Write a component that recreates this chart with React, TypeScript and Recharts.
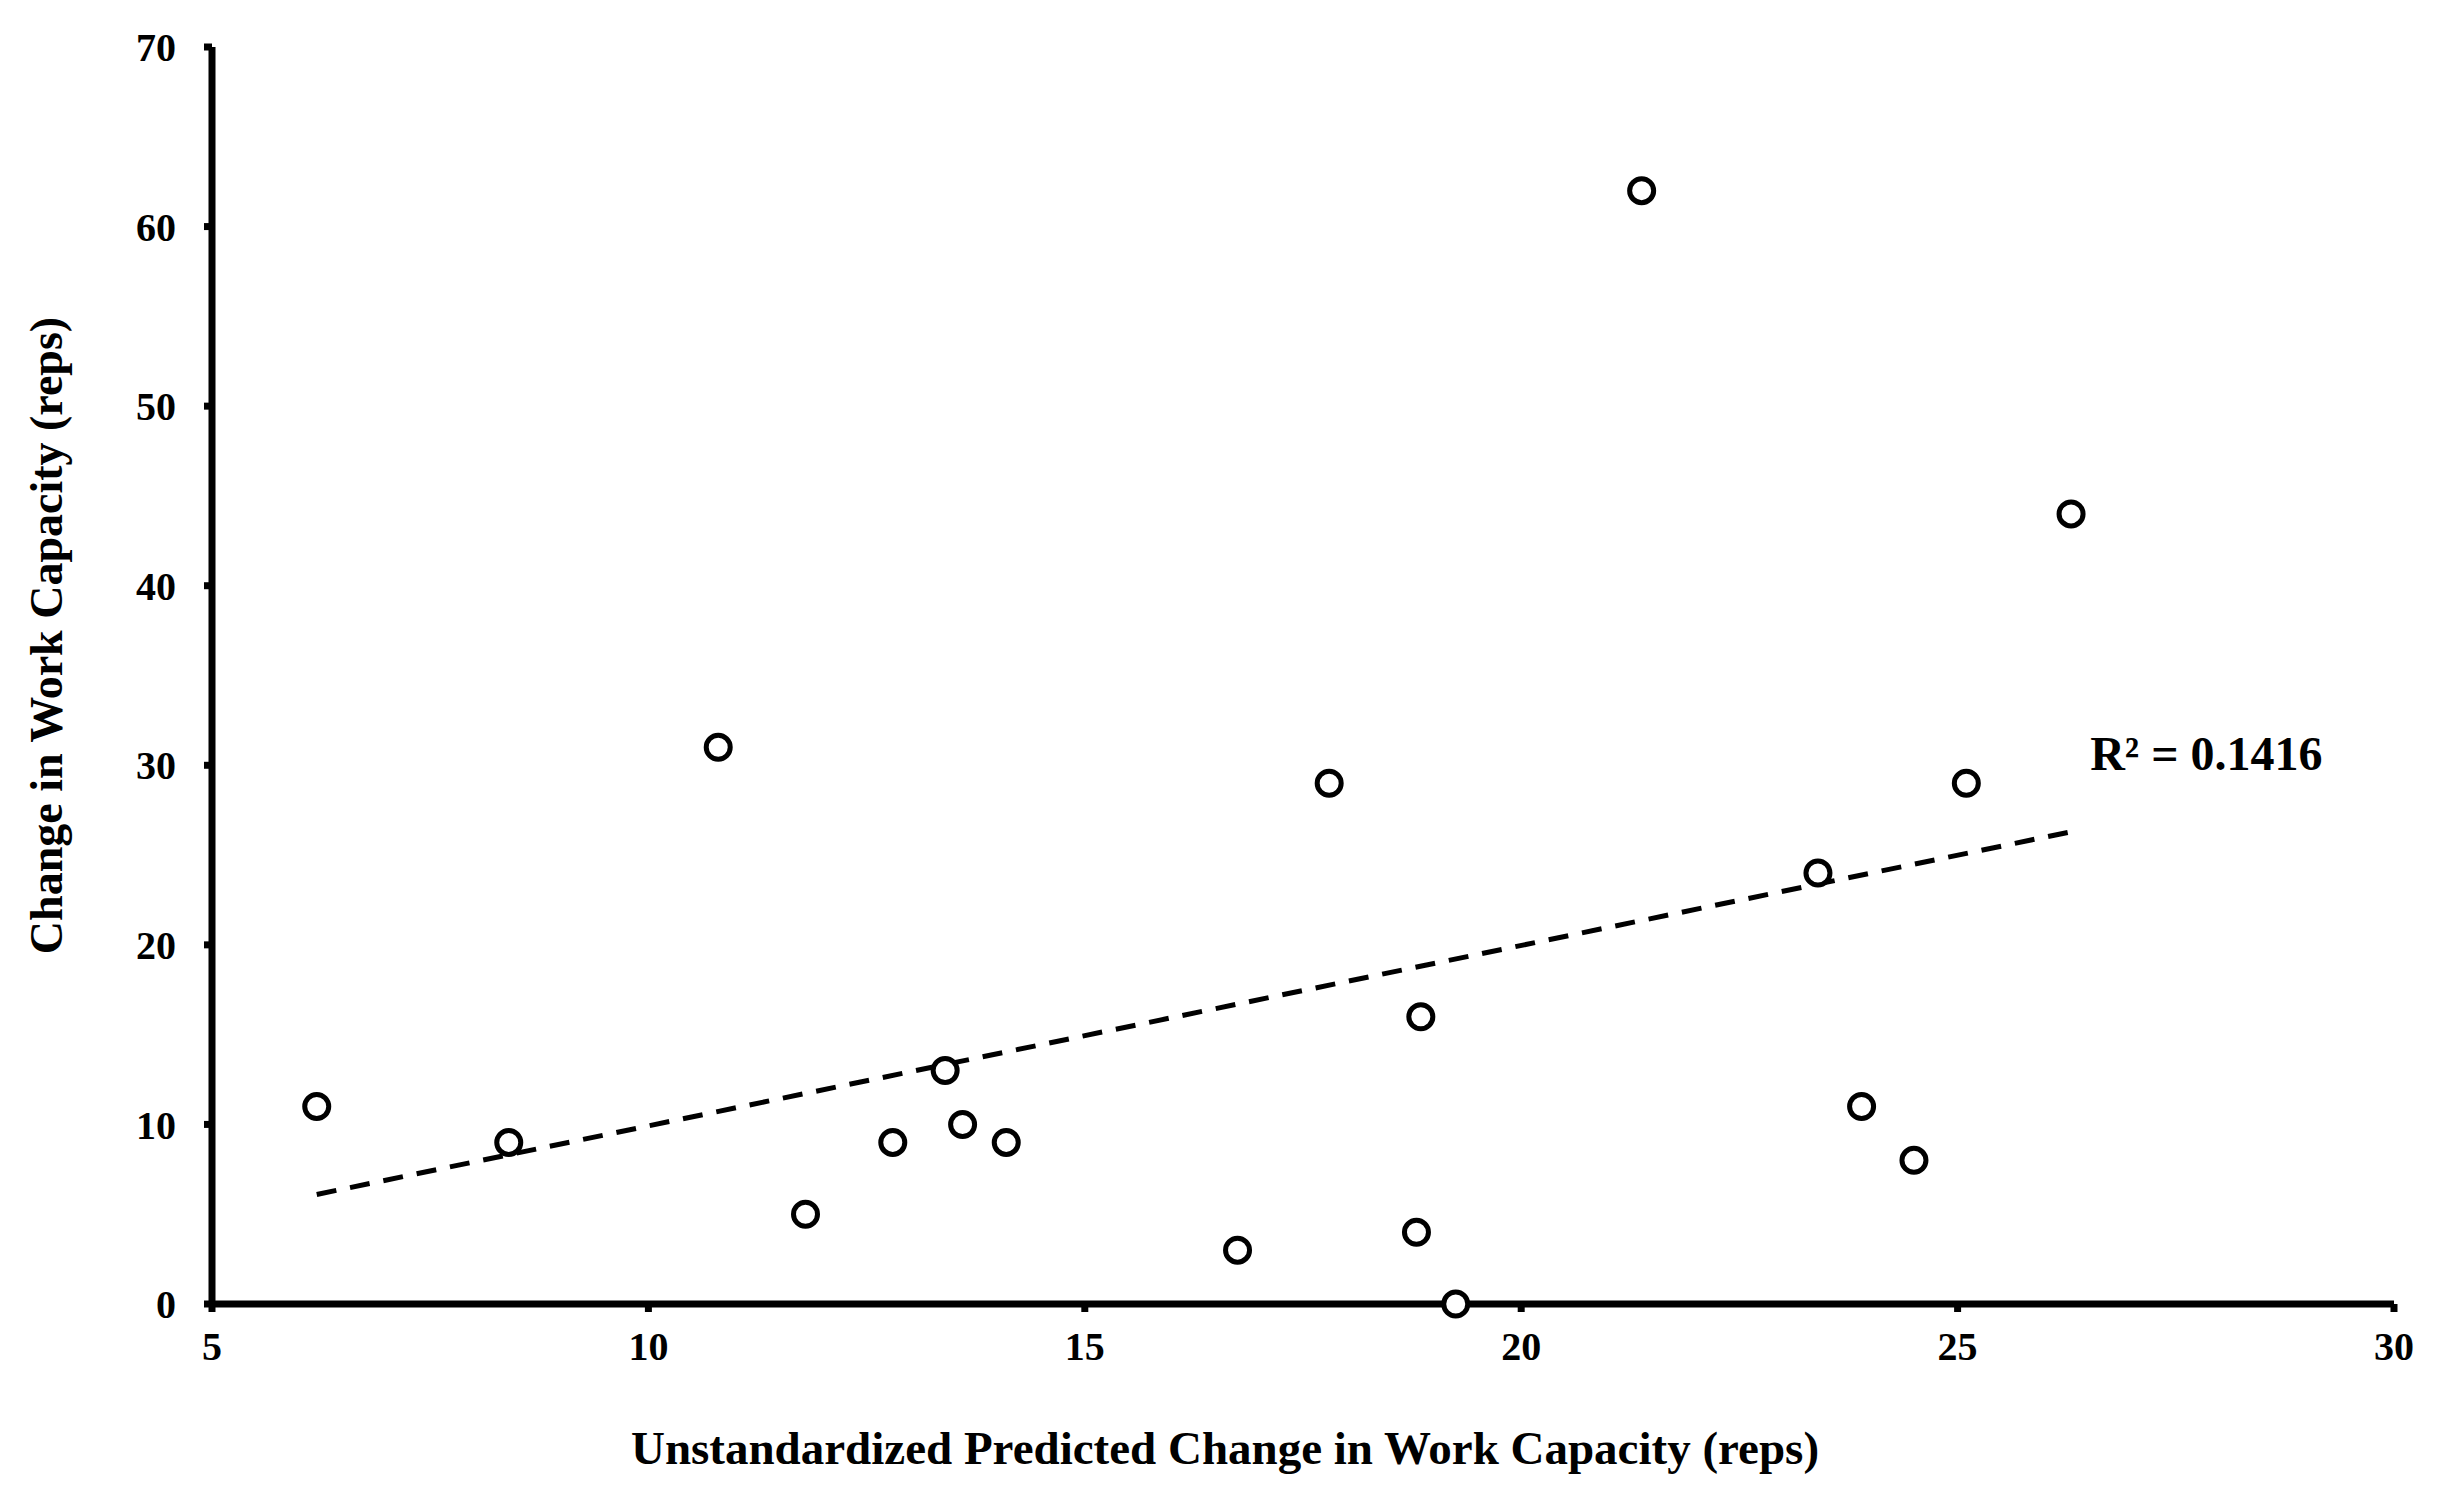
import React from 'react';
import { ScatterChart, Scatter, XAxis, YAxis, ReferenceDot } from 'recharts';

// values
const predicted = [6.2, 8.4, 10.8, 11.8, 12.8, 13.4, 13.6, 14.1, 16.75, 17.8, 18.8, 18.85, 19.25, 21.38, 23.4, 23.9, 24.5, 25.1, 26.3];
const observed = [11, 9, 31, 5, 9, 13, 10, 9, 3, 29, 4, 16, 0, 62, 24, 11, 8, 29, 44];

// linear trendline end points
const trendX = [6.2, 26.35];
const trendY = [6.1, 26.35];

const xTicks = [5, 10, 15, 20, 25, 30];
const yTicks = [0, 10, 20, 30, 40, 50, 60, 70];

const rSquaredLabel = 'R² = 0.1416';
const xTitle = 'Unstandardized Predicted Change in Work Capacity (reps)';
const yTitle = 'Change in Work Capacity (reps)';

const points = predicted.map((x, i) => ({ x, y: observed[i] }));
const trend = trendX.map((x, i) => ({ x, y: trendY[i] }));

const FONT = '"Liberation Serif", "Times New Roman", serif';

const OpenCircle = (props: any) => (
  <circle cx={props.cx} cy={props.cy} r={12} fill="#fff" stroke="#000" strokeWidth={5} />
);

const XTitle = (props: any) => {
  const vb = props.viewBox || {};
  return (
    <text
      x={vb.x + vb.width / 2 - 78}
      y={1456}
      textAnchor="middle"
      fontFamily={FONT}
      fontWeight={700}
      fontSize={47}
      fill="#000"
    >
      {xTitle}
    </text>
  );
};

const YTitle = (props: any) => {
  const vb = props.viewBox || {};
  // title sits a little above the middle of the plot
  const cy = vb.y + vb.height / 2 - 40;
  return (
    <text
      x={38}
      y={cy}
      transform={`rotate(-90, 38, ${cy})`}
      textAnchor="middle"
      dominantBaseline="central"
      fontFamily={FONT}
      fontWeight={700}
      fontSize={46}
      fill="#000"
    >
      {yTitle}
    </text>
  );
};

const tickStyle = { fontFamily: FONT, fontWeight: 700, fontSize: 40, fill: '#000' };

export default function App() {
  return (
    <div style={{ width: 2440, height: 1496, background: '#fff' }}>
      <ScatterChart width={2440} height={1496} margin={{ top: 39, right: 54, left: 0, bottom: 0 }}>
        <XAxis
          type="number"
          dataKey="x"
          domain={[5, 30]}
          ticks={xTicks}
          height={200}
          axisLine={{ stroke: '#000', strokeWidth: 7 }}
          tickLine={{ stroke: '#000', strokeWidth: 7 }}
          tickSize={8}
          tickMargin={20}
          tick={tickStyle}
          label={<XTitle />}
        />
        <YAxis
          type="number"
          dataKey="y"
          domain={[0, 70]}
          ticks={yTicks}
          width={204}
          axisLine={{ stroke: '#000', strokeWidth: 7 }}
          tickLine={{ stroke: '#000', strokeWidth: 7 }}
          tickSize={8}
          tickMargin={28}
          tick={tickStyle}
          label={<YTitle />}
        />
        <Scatter
          data={trend}
          line={{ stroke: '#000', strokeWidth: 5, strokeDasharray: '20 14' }}
          shape={() => <g />}
          isAnimationActive={false}
        />
        <Scatter data={points} shape={OpenCircle} isAnimationActive={false} />
        <ReferenceDot
          x={27.85}
          y={30.7}
          r={0}
          fill="none"
          stroke="none"
          label={{ value: rSquaredLabel, position: 'center', fontFamily: FONT, fontWeight: 700, fontSize: 48, fill: '#000' }}
        />
      </ScatterChart>
    </div>
  );
}
